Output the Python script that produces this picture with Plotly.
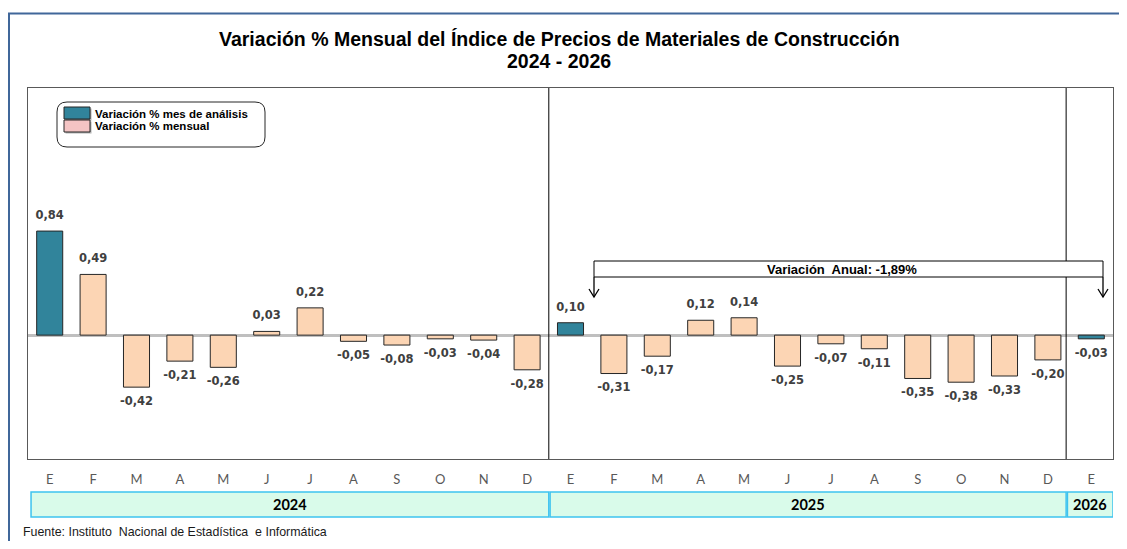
import plotly.graph_objects as go

# ---------------- data ----------------
months = ["E", "F", "M", "A", "M", "J", "J", "A", "S", "O", "N", "D",
          "E", "F", "M", "A", "M", "J", "J", "A", "S", "O", "N", "D",
          "E"]
years = [2024] * 12 + [2025] * 12 + [2026]
values = [0.84, 0.49, -0.42, -0.21, -0.26, 0.03, 0.22, -0.05, -0.08, -0.03, -0.04, -0.28,
          0.10, -0.31, -0.17, 0.12, 0.14, -0.25, -0.07, -0.11, -0.35, -0.38, -0.33, -0.20,
          -0.03]
analysis_month = "E"
legend_labels = ["Variación % mes de análisis", "Variación % mensual"]
annual_label = "Variación  Anual: -1,89%"
title_lines = ["Variación % Mensual del Índice de Precios de Materiales de Construcción",
               "2024 - 2026"]
source_text = "Fuente: Instituto  Nacional de Estadística  e Informática"

# ---------------- styling ----------------
OFF = 8                      # default page body margin
W, H = 1127 - 2 * OFF, 549 - 2 * OFF
TEAL = "#31849b"
PEACH = "#fcd5b4"
PINK = "#f4c4c4"


def fx(p):
    return (p - OFF) / W


def fy(p):
    return 1 - (p - OFF) / H


x = list(range(len(values)))
colors = [TEAL if m == analysis_month else PEACH for m in months]

fig = go.Figure()
fig.add_trace(go.Bar(
    x=x, y=values,
    width=0.6,
    marker=dict(color=colors, line=dict(color="#262626", width=1)),
    showlegend=False,
    hoverinfo="skip",
))
# data labels (offset from the bar ends through an invisible marker)
fig.add_trace(go.Scatter(
    x=x, y=values,
    mode="markers+text",
    marker=dict(size=13, opacity=0),
    texttemplate="%{y:.2f}",
    textposition=["top center" if v >= 0 else "bottom center" for v in values],
    textfont=dict(family="DejaVu Sans", size=11.5, color="#404040", weight="bold"),
    cliponaxis=False,
    showlegend=False,
    hoverinfo="skip",
))

shapes = []
annotations = []

# outer frame (left and top blue lines)
shapes.append(dict(type="line", xref="paper", yref="paper", x0=fx(9), x1=fx(9),
                   y0=fy(13), y1=fy(560), line=dict(color="#40679a", width=2)))
shapes.append(dict(type="line", xref="paper", yref="paper", x0=fx(8), x1=fx(1130),
                   y0=fy(13.5), y1=fy(13.5), line=dict(color="#40679a", width=2)))

# year groups: dividers and band
groups = []
for i, yv in enumerate(years):
    if not groups or groups[-1][0] != yv:
        groups.append([yv, i, i])
    else:
        groups[-1][2] = i

bounds = [-0.43]
for g in groups[:-1]:
    bounds.append(g[2] + 0.5)
bounds.append(len(values) - 0.5)
bounds[-2] = bounds[-2] - 0.08

for b in bounds[1:-1]:
    shapes.append(dict(type="line", xref="x", yref="paper", x0=b, x1=b,
                       y0=fy(459), y1=fy(88), line=dict(color="#000000", width=1)))

for k, g in enumerate(groups):
    x0 = bounds[k] + (0.03 if k > 0 else 0)
    x1 = bounds[k + 1]
    shapes.append(dict(type="rect", xref="x", yref="paper", x0=x0, x1=x1,
                       y0=fy(517), y1=fy(492), fillcolor="#d9fbea",
                       line=dict(color="#3ec3ef", width=1.5)))
    annotations.append(dict(xref="x", yref="paper", x=(x0 + x1) / 2, y=fy(504.5),
                            text="<b>%d</b>" % g[0], showarrow=False,
                            font=dict(family="Lato", size=14.5, color="#000000"),
                            xanchor="center", yanchor="middle"))

# legend (rounded box)
lx0, ly0, lx1, ly1, r = 57, 102, 265, 147, 10
path = ("M {a},{b} L {c},{b} Q {d},{b} {d},{e} L {d},{f} Q {d},{g} {c},{g} "
        "L {a},{g} Q {h},{g} {h},{f} L {h},{e} Q {h},{b} {a},{b} Z").format(
    a=fx(lx0 + r), b=fy(ly0), c=fx(lx1 - r), d=fx(lx1), e=fy(ly0 + r),
    f=fy(ly1 - r), g=fy(ly1), h=fx(lx0))
shapes.append(dict(type="path", xref="paper", yref="paper", path=path,
                   fillcolor="white", line=dict(color="#262626", width=1)))
for k, (lab, col) in enumerate(zip(legend_labels, [TEAL, PINK])):
    top = 107 + k * 13
    shapes.append(dict(type="rect", xref="paper", yref="paper", x0=fx(65.5), x1=fx(91.5),
                       y0=fy(top + 13.5), y1=fy(top + 1.5), fillcolor="#b0b0b0",
                       line=dict(width=0)))
    shapes.append(dict(type="rect", xref="paper", yref="paper", x0=fx(64), x1=fx(90),
                       y0=fy(top + 12), y1=fy(top), fillcolor=col,
                       line=dict(color="#262626", width=1)))
    annotations.append(dict(xref="paper", yref="paper", x=fx(93), y=fy(top + 6.5),
                            text="<b>%s</b>" % lab, showarrow=False,
                            xanchor="left", yanchor="middle",
                            font=dict(family="Liberation Sans", size=11.5, color="#000000")))

# annual variation box with arrows
shapes.append(dict(type="rect", xref="paper", yref="paper", x0=fx(594), x1=fx(1103),
                   y0=fy(277), y1=fy(261), fillcolor="white",
                   line=dict(color="#000000", width=1)))
annotations.append(dict(xref="paper", yref="paper", x=fx(842), y=fy(269.5),
                        text="<b>%s</b>" % annual_label, showarrow=False,
                        xanchor="center", yanchor="middle",
                        font=dict(family="Liberation Sans", size=13, color="#000000")))
for ax in (594, 1103):
    shapes.append(dict(type="path", xref="paper", yref="paper",
                       path="M {0},{1} L {0},{2}".format(fx(ax), fy(277), fy(297)),
                       line=dict(color="#000000", width=1.3)))
    shapes.append(dict(type="path", xref="paper", yref="paper",
                       path="M {0},{1} L {2},{3} L {4},{1}".format(
                           fx(ax - 5), fy(289), fx(ax), fy(297), fx(ax + 5)),
                       line=dict(color="#000000", width=1.3)))

# title
for ty, line in zip((39, 61), title_lines):
    annotations.append(dict(xref="paper", yref="paper", x=fx(559), y=fy(ty),
                            text="<b>%s</b>" % line,
                            showarrow=False, xanchor="center", yanchor="middle",
                            font=dict(family="Liberation Sans", size=19.5, color="#000000")))

# source
annotations.append(dict(xref="paper", yref="paper", x=fx(21), y=fy(540.5),
                        text=source_text, showarrow=False,
                        xanchor="left", yanchor="bottom",
                        font=dict(family="Liberation Sans", size=12.4, color="#1a1a1a")))

fig.update_layout(
    width=W, height=H,
    margin=dict(l=0, r=0, t=0, b=0),
    paper_bgcolor="white", plot_bgcolor="white",
    separators=",.",
    shapes=shapes,
    annotations=annotations,
    xaxis=dict(domain=[fx(28), fx(1113)], range=[-0.5, len(values) - 0.5],
               tickmode="array", tickvals=x, ticktext=months,
               showline=True, mirror=True, linecolor="#595959", linewidth=1,
               showgrid=False, zeroline=False, ticks="",
               tickfont=dict(family="Lato", size=13, color="#595959"),
               ticklabelstandoff=8, fixedrange=True),
    yaxis=dict(domain=[fy(459), fy(88)], range=[-1.0, 1.995],
               showline=True, mirror=True, linecolor="#595959", linewidth=1,
               showgrid=False, showticklabels=False, ticks="",
               zeroline=True, zerolinecolor="#bfbfbf", zerolinewidth=2.5,
               fixedrange=True),
)

fig.write_html("out.html")
